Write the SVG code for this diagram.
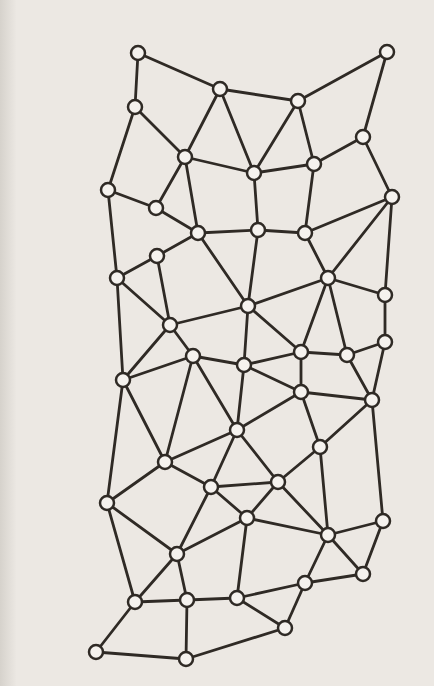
<svg xmlns="http://www.w3.org/2000/svg" width="434" height="686" viewBox="0 0 434 686">
<style>
.e line{stroke:#2f2a25;stroke-width:2.8;stroke-linecap:round}
.n circle{fill:#f5f2ee;stroke:#2f2a25;stroke-width:2.5}
</style>
<defs>
<linearGradient id="edge" x1="0" y1="0" x2="1" y2="0">
<stop offset="0" stop-color="#d6d2cc"/>
<stop offset="1" stop-color="#ebe7e2"/>
</linearGradient>
</defs>
<rect width="434" height="686" fill="#ece8e3"/>
<rect width="16" height="686" fill="url(#edge)"/>
<g id="edges" class="e">
<line x1="138" y1="53" x2="220" y2="89"/>
<line x1="138" y1="53" x2="135" y2="107"/>
<line x1="220" y1="89" x2="298" y2="101"/>
<line x1="298" y1="101" x2="387" y2="52"/>
<line x1="387" y1="52" x2="363" y2="137"/>
<line x1="220" y1="89" x2="185" y2="157"/>
<line x1="220" y1="89" x2="254" y2="173"/>
<line x1="298" y1="101" x2="254" y2="173"/>
<line x1="298" y1="101" x2="314" y2="164"/>
<line x1="135" y1="107" x2="108" y2="190"/>
<line x1="135" y1="107" x2="185" y2="157"/>
<line x1="363" y1="137" x2="314" y2="164"/>
<line x1="363" y1="137" x2="392" y2="197"/>
<line x1="185" y1="157" x2="254" y2="173"/>
<line x1="254" y1="173" x2="314" y2="164"/>
<line x1="185" y1="157" x2="156" y2="208"/>
<line x1="185" y1="157" x2="198" y2="233"/>
<line x1="108" y1="190" x2="156" y2="208"/>
<line x1="156" y1="208" x2="198" y2="233"/>
<line x1="198" y1="233" x2="258" y2="230"/>
<line x1="258" y1="230" x2="305" y2="233"/>
<line x1="254" y1="173" x2="258" y2="230"/>
<line x1="314" y1="164" x2="305" y2="233"/>
<line x1="305" y1="233" x2="392" y2="197"/>
<line x1="392" y1="197" x2="328" y2="278"/>
<line x1="392" y1="197" x2="385" y2="295"/>
<line x1="305" y1="233" x2="328" y2="278"/>
<line x1="198" y1="233" x2="157" y2="256"/>
<line x1="157" y1="256" x2="117" y2="278"/>
<line x1="108" y1="190" x2="117" y2="278"/>
<line x1="157" y1="256" x2="170" y2="325"/>
<line x1="117" y1="278" x2="170" y2="325"/>
<line x1="117" y1="278" x2="123" y2="380"/>
<line x1="198" y1="233" x2="248" y2="306"/>
<line x1="258" y1="230" x2="248" y2="306"/>
<line x1="248" y1="306" x2="170" y2="325"/>
<line x1="248" y1="306" x2="328" y2="278"/>
<line x1="248" y1="306" x2="301" y2="352"/>
<line x1="248" y1="306" x2="244" y2="365"/>
<line x1="328" y1="278" x2="385" y2="295"/>
<line x1="328" y1="278" x2="301" y2="352"/>
<line x1="328" y1="278" x2="347" y2="355"/>
<line x1="385" y1="295" x2="385" y2="342"/>
<line x1="385" y1="342" x2="347" y2="355"/>
<line x1="301" y1="352" x2="347" y2="355"/>
<line x1="170" y1="325" x2="193" y2="356"/>
<line x1="170" y1="325" x2="123" y2="380"/>
<line x1="123" y1="380" x2="193" y2="356"/>
<line x1="123" y1="380" x2="165" y2="462"/>
<line x1="123" y1="380" x2="107" y2="503"/>
<line x1="193" y1="356" x2="244" y2="365"/>
<line x1="193" y1="356" x2="237" y2="430"/>
<line x1="193" y1="356" x2="165" y2="462"/>
<line x1="244" y1="365" x2="301" y2="352"/>
<line x1="301" y1="352" x2="301" y2="392"/>
<line x1="244" y1="365" x2="301" y2="392"/>
<line x1="244" y1="365" x2="237" y2="430"/>
<line x1="301" y1="392" x2="372" y2="400"/>
<line x1="347" y1="355" x2="372" y2="400"/>
<line x1="385" y1="342" x2="372" y2="400"/>
<line x1="372" y1="400" x2="320" y2="447"/>
<line x1="372" y1="400" x2="383" y2="521"/>
<line x1="301" y1="392" x2="237" y2="430"/>
<line x1="301" y1="392" x2="320" y2="447"/>
<line x1="237" y1="430" x2="165" y2="462"/>
<line x1="237" y1="430" x2="211" y2="487"/>
<line x1="237" y1="430" x2="278" y2="482"/>
<line x1="320" y1="447" x2="278" y2="482"/>
<line x1="320" y1="447" x2="328" y2="535"/>
<line x1="165" y1="462" x2="211" y2="487"/>
<line x1="165" y1="462" x2="107" y2="503"/>
<line x1="211" y1="487" x2="278" y2="482"/>
<line x1="211" y1="487" x2="247" y2="518"/>
<line x1="278" y1="482" x2="247" y2="518"/>
<line x1="278" y1="482" x2="328" y2="535"/>
<line x1="247" y1="518" x2="328" y2="535"/>
<line x1="328" y1="535" x2="383" y2="521"/>
<line x1="107" y1="503" x2="177" y2="554"/>
<line x1="211" y1="487" x2="177" y2="554"/>
<line x1="247" y1="518" x2="177" y2="554"/>
<line x1="247" y1="518" x2="237" y2="598"/>
<line x1="107" y1="503" x2="135" y2="602"/>
<line x1="177" y1="554" x2="135" y2="602"/>
<line x1="177" y1="554" x2="187" y2="600"/>
<line x1="328" y1="535" x2="305" y2="583"/>
<line x1="328" y1="535" x2="363" y2="574"/>
<line x1="383" y1="521" x2="363" y2="574"/>
<line x1="135" y1="602" x2="187" y2="600"/>
<line x1="187" y1="600" x2="237" y2="598"/>
<line x1="237" y1="598" x2="305" y2="583"/>
<line x1="305" y1="583" x2="363" y2="574"/>
<line x1="237" y1="598" x2="285" y2="628"/>
<line x1="305" y1="583" x2="285" y2="628"/>
<line x1="135" y1="602" x2="96" y2="652"/>
<line x1="96" y1="652" x2="186" y2="659"/>
<line x1="187" y1="600" x2="186" y2="659"/>
<line x1="186" y1="659" x2="285" y2="628"/>
</g>
<g class="n">
<g id="nA"><circle cx="138" cy="53" r="7"/></g>
<g id="nB"><circle cx="387" cy="52" r="7"/></g>
<g id="nC"><circle cx="220" cy="89" r="7"/></g>
<g id="nD"><circle cx="298" cy="101" r="7"/></g>
<g id="nE"><circle cx="135" cy="107" r="7"/></g>
<g id="nF"><circle cx="363" cy="137" r="7"/></g>
<g id="nG"><circle cx="185" cy="157" r="7"/></g>
<g id="nH"><circle cx="254" cy="173" r="7"/></g>
<g id="nI"><circle cx="314" cy="164" r="7"/></g>
<g id="nJ"><circle cx="108" cy="190" r="7"/></g>
<g id="nK"><circle cx="156" cy="208" r="7"/></g>
<g id="nL"><circle cx="392" cy="197" r="7"/></g>
<g id="nM"><circle cx="198" cy="233" r="7"/></g>
<g id="nN"><circle cx="258" cy="230" r="7"/></g>
<g id="nO"><circle cx="305" cy="233" r="7"/></g>
<g id="nP"><circle cx="157" cy="256" r="7"/></g>
<g id="nQ"><circle cx="117" cy="278" r="7"/></g>
<g id="nR"><circle cx="328" cy="278" r="7"/></g>
<g id="nS"><circle cx="248" cy="306" r="7"/></g>
<g id="nT"><circle cx="385" cy="295" r="7"/></g>
<g id="nU"><circle cx="170" cy="325" r="7"/></g>
<g id="nV"><circle cx="385" cy="342" r="7"/></g>
<g id="nW"><circle cx="193" cy="356" r="7"/></g>
<g id="nX"><circle cx="301" cy="352" r="7"/></g>
<g id="nY"><circle cx="347" cy="355" r="7"/></g>
<g id="nZ"><circle cx="244" cy="365" r="7"/></g>
<g id="nAA"><circle cx="123" cy="380" r="7"/></g>
<g id="nAB"><circle cx="301" cy="392" r="7"/></g>
<g id="nAC"><circle cx="372" cy="400" r="7"/></g>
<g id="nAD"><circle cx="237" cy="430" r="7"/></g>
<g id="nAE"><circle cx="320" cy="447" r="7"/></g>
<g id="nAF"><circle cx="165" cy="462" r="7"/></g>
<g id="nAG"><circle cx="211" cy="487" r="7"/></g>
<g id="nAH"><circle cx="278" cy="482" r="7"/></g>
<g id="nAI"><circle cx="107" cy="503" r="7"/></g>
<g id="nAJ"><circle cx="247" cy="518" r="7"/></g>
<g id="nAK"><circle cx="383" cy="521" r="7"/></g>
<g id="nAL"><circle cx="328" cy="535" r="7"/></g>
<g id="nAM"><circle cx="177" cy="554" r="7"/></g>
<g id="nAN"><circle cx="305" cy="583" r="7"/></g>
<g id="nAO"><circle cx="363" cy="574" r="7"/></g>
<g id="nAP"><circle cx="135" cy="602" r="7"/></g>
<g id="nAQ"><circle cx="187" cy="600" r="7"/></g>
<g id="nAR"><circle cx="237" cy="598" r="7"/></g>
<g id="nAS"><circle cx="285" cy="628" r="7"/></g>
<g id="nAT"><circle cx="96" cy="652" r="7"/></g>
<g id="nAU"><circle cx="186" cy="659" r="7"/></g>
</g>
</svg>
